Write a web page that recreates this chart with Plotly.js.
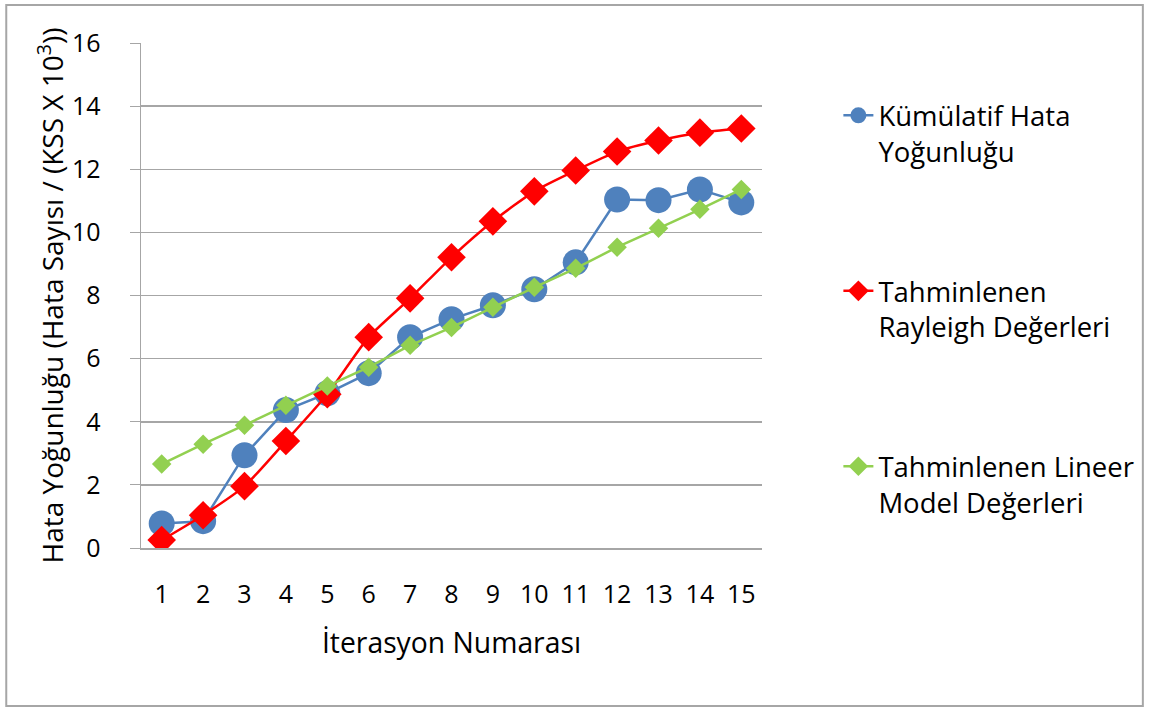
<!DOCTYPE html>
<html>
<head>
<meta charset="utf-8">
<script src="https://cdn.plot.ly/plotly-3.0.1.min.js"></script>
<style>html,body{margin:0;padding:0;background:#fff;}#chart{width:1152px;height:711px;}</style>
</head>
<body>
<div id="chart"></div>
<script>
const iterations = [1,2,3,4,5,6,7,8,9,10,11,12,13,14,15];
const cumulativeDensity = [0.78,0.85,2.94,4.37,4.90,5.54,6.68,7.25,7.69,8.20,9.05,11.04,11.02,11.36,10.95];
const rayleighEstimate = [0.25,1.04,1.96,3.39,4.87,6.68,7.91,9.21,10.35,11.30,11.96,12.56,12.91,13.16,13.29];
const linearEstimate = [2.66,3.29,3.89,4.52,5.13,5.73,6.42,6.99,7.63,8.26,8.86,9.53,10.13,10.73,11.36];
const seriesNames = ["Kümülatif Hata<br>Yoğunluğu","Tahminlenen<br>Rayleigh Değerleri","Tahminlenen Lineer<br>Model Değerleri"];
const yTicks = [0,2,4,6,8,10,12,14,16];

const FONT = "'Open Sans', Lato, sans-serif";
const traces = [
  {x: iterations, y: cumulativeDensity, name: seriesNames[0], type:'scatter', mode:'lines+markers',
   legendgroup:'a', line:{color:'#4F81BD', width:2.5}, marker:{symbol:'circle', size:26, color:'#4F81BD'}},
  {x: iterations, y: rayleighEstimate, name: seriesNames[1], type:'scatter', mode:'lines+markers',
   legendgroup:'b', line:{color:'#FF0000', width:2.5, shape:'spline', smoothing:0.6}, marker:{symbol:'diamond', size:22, color:'#FF0000'}},
  {x: iterations, y: linearEstimate, name: seriesNames[2], type:'scatter', mode:'lines+markers',
   legendgroup:'c', line:{color:'#92D050', width:2.5}, marker:{symbol:'diamond', size:15, color:'#92D050'}}
];

const L = 140.5, R = 765, T = 43, B = 548;
const W = 1152, H = 711;
const layout = {
  width: W, height: H,
  margin: {l: L, r: W - R, t: T, b: H - B, pad: 0},
  paper_bgcolor: '#fff', plot_bgcolor: '#fff',
  font: {family: FONT, color: '#000', size: 25},
  showlegend: true,
  legend: {x: 1.123, y: 0.905, xanchor: 'left', yanchor: 'top', tracegroupgap: 101, valign: 'top',
           font: {family: FONT, size: 27.5, color: '#000'}, bgcolor: 'rgba(0,0,0,0)'},
  xaxis: {range: [0.5, 15.5], tickmode: 'array', tickvals: iterations, ticktext: iterations.map(String),
          showgrid: false, zeroline: false, showline: true, linecolor: '#a6a6a6', linewidth: 1.5,
          ticks: '', ticklabelstandoff: 23, tickfont: {size: 25},
          title: {text: 'İterasyon Numarası', font: {size: 28.3}, standoff: 24}},
  yaxis: {range: [0, 16], tickmode: 'array', tickvals: yTicks, ticktext: yTicks.map(String),
          showgrid: true, gridcolor: '#a6a6a6', gridwidth: 1.5, zeroline: false,
          showline: true, linecolor: '#a6a6a6', linewidth: 1.5, ticks: 'outside', ticklen: 10, tickcolor: '#a6a6a6',
          ticklabelstandoff: 24, tickfont: {size: 25},
          title: {text: 'Hata Yoğunluğu (Hata Sayısı / (KSS X 10<sup>3</sup>))', font: {size: 28}, standoff: 0}},
  shapes: [{type: 'rect', xref: 'paper', yref: 'paper', layer: 'below',
            x0: (5 - L) / (R - L), x1: (1148 - L) / (R - L),
            y0: (B - 706) / (B - T), y1: (B - 5) / (B - T),
            line: {color: '#a6a6a6', width: 2}}]
};
Plotly.newPlot('chart', traces, layout, {displayModeBar: false, staticPlot: true});
</script>
</body>
</html>
